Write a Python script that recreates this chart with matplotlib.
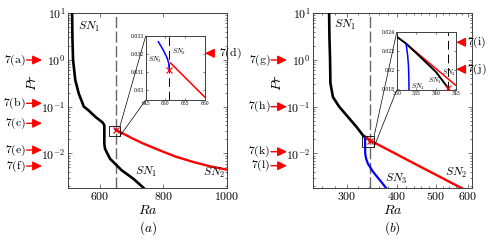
import matplotlib
matplotlib.use('Agg')
import matplotlib.pyplot as plt
import numpy as np
from matplotlib.patches import Rectangle, ConnectionPatch
from matplotlib.ticker import FixedLocator, FixedFormatter, NullFormatter, LogLocator

plt.rcParams['mathtext.fontset'] = 'cm'
plt.rcParams['font.family'] = 'serif'

# ---------------- data: panel (a) ----------------
sn1_a_ra = [512, 513, 515, 522, 533, 549, 563, 586, 608, 613.7, 613.7, 616, 631.7, 668.6, 705.2, 737]
sn1_a_pr = [10, 3, 1, 0.37, 0.19, 0.1, 0.084, 0.060, 0.046, 0.040, 0.0162, 0.0125, 0.0077, 0.00435, 0.00288, 0.00185]
sn2_a_ra = [651.3, 660, 700, 737, 800, 842, 900, 947, 1000]
sn2_a_pr = [0.0315, 0.0296, 0.0213, 0.0162, 0.0108, 0.0084, 0.0064, 0.0053, 0.0045]
sn3_a_ra = [648.2, 649.45, 650.46, 650.82, 650.97]
sn3_a_pr = [0.03268, 0.03222, 0.03176, 0.03149, 0.03111]
cross_a = (650.97, 0.03111)
dash_a = 651.0

# ---------------- data: panel (b) ----------------
sn1_b_ra = [271, 271.5, 272.5, 273, 277, 287, 302, 317, 330, 332.4, 336, 340, 343]
sn1_b_pr = [10, 3, 1, 0.32, 0.16, 0.1, 0.06, 0.037, 0.02354, 0.0228, 0.0214, 0.0198, 0.01815]
sn2_b_ra = [332.4, 345, 400, 438, 500, 583]
sn2_b_pr = [0.0228, 0.0184, 0.0095, 0.0063, 0.0035, 0.00176]
sn3_b_ra = [332.4, 332.8, 333.0, 333.1, 333.2, 333.3, 335, 338.6, 349, 362.8, 377]
sn3_b_pr = [0.02277, 0.0215, 0.0204, 0.019, 0.0150, 0.0100, 0.0078, 0.0060, 0.0040, 0.00266, 0.00176]
cross_b = (343, 0.01815)
dash_b = 343.0

W, H = 490, 241
fig = plt.figure(figsize=(W / 100, H / 100), dpi=100)


def fx(px):
    return px / W


def fy(py):
    return 1 - py / H


spine_c = '0.25'
RED = '#ff0000'
BLUE = '#0000ff'


def style(ax, fs=8, length=3, pad=2):
    for s in ax.spines.values():
        s.set_color(spine_c)
        s.set_linewidth(0.7)
    ax.tick_params(which='both', direction='in', top=True, right=True,
                   width=0.5, colors=spine_c, labelcolor='black', labelsize=fs, pad=pad)
    ax.tick_params(which='major', length=length)
    ax.tick_params(which='minor', length=length * 0.55)


axA = fig.add_axes([fx(68.3), fy(187.7), (226.7 - 68.3) / W, (187.7 - 13) / H])
axB = fig.add_axes([fx(313.3), fy(187.7), (472.0 - 313.3) / W, (187.7 - 13) / H])

ylog_ticks = [1e-2, 1e-1, 1, 10]
ylog_labels = ['$10^{-2}$', '$10^{-1}$', '$10^{0}$', '$10^{1}$']

for ax in (axA, axB):
    ax.set_yscale('log')
    ax.set_ylim(0.00185, 10)
    ax.yaxis.set_major_locator(FixedLocator(ylog_ticks))
    ax.yaxis.set_major_formatter(FixedFormatter(ylog_labels))
    ax.yaxis.set_minor_locator(LogLocator(base=10, subs=np.arange(2, 10)))
    ax.yaxis.set_minor_formatter(NullFormatter())
    style(ax, fs=8.5)

# panel a
axA.set_xlim(500, 1000)
axA.xaxis.set_major_locator(FixedLocator([600, 800, 1000]))
axA.xaxis.set_major_formatter(FixedFormatter(['$600$', '$800$', '$1000$']))
axA.axvline(dash_a, color='0.4', lw=1.0, ls=(0, (8, 2.5)), zorder=1)
axA.plot(sn1_a_ra, sn1_a_pr, color='black', lw=1.9, zorder=3)
axA.plot(sn2_a_ra, sn2_a_pr, color=RED, lw=1.7, zorder=3)
axA.plot(sn3_a_ra, sn3_a_pr, color=BLUE, lw=1.2, zorder=4)
axA.plot([cross_a[0]], [cross_a[1]], 'x', color=RED, ms=4, mew=0.9, zorder=5)
boxA = Rectangle((630, 0.0234), 33, 0.038 - 0.0234, fill=False, ec='black', lw=0.6, zorder=6)
axA.add_patch(boxA)
axA.text(0.061, 0.921, '$SN_1$', transform=axA.transAxes, fontsize=8.5, va='center')
axA.text(0.421, 0.092, '$SN_1$', transform=axA.transAxes, fontsize=8.5, va='center')
axA.text(0.850, 0.082, '$SN_2$', transform=axA.transAxes, fontsize=8.5, va='center')

# panel b
axB.set_xscale('log')
axB.set_xlim(247.5, 615)
axB.xaxis.set_major_locator(FixedLocator([300, 400, 500, 600]))
axB.xaxis.set_major_formatter(FixedFormatter(['$300$', '$400$', '$500$', '$600$']))
axB.xaxis.set_minor_locator(FixedLocator([260, 280, 320, 340, 360, 380, 420, 440, 460, 480,
                                          520, 540, 560, 580]))
axB.xaxis.set_minor_formatter(NullFormatter())
axB.axvline(dash_b, color='0.4', lw=1.0, ls=(0, (8, 2.5)), zorder=1)
axB.plot(sn1_b_ra, sn1_b_pr, color='black', lw=1.9, zorder=3)
axB.plot(sn2_b_ra, sn2_b_pr, color=RED, lw=1.7, zorder=3)
axB.plot(sn3_b_ra, sn3_b_pr, color=BLUE, lw=1.6, zorder=4)
axB.plot([cross_b[0]], [cross_b[1]], 'x', color=RED, ms=4, mew=0.9, zorder=5)
boxB = Rectangle((326.4, 0.0137), 350.7 - 326.4, 0.0232 - 0.0137, fill=False, ec='black', lw=0.6, zorder=6)
axB.add_patch(boxB)
axB.text(0.132, 0.93, '$SN_1$', transform=axB.transAxes, fontsize=8.5, va='center')
axB.text(0.83, 0.082, '$SN_2$', transform=axB.transAxes, fontsize=8.5, va='center')
axB.text(0.452, 0.05, '$SN_3$', transform=axB.transAxes, fontsize=8.5, va='center')

# ---------------- insets ----------------
insA = fig.add_axes([fx(145.7), fy(100), (205 - 145.7) / W, 64 / H])
insA.set_xlim(645, 660)
insA.set_ylim(0.02945, 0.033)
insA.xaxis.set_major_locator(FixedLocator([645, 650, 655, 660]))
insA.xaxis.set_major_formatter(FixedFormatter(['645', '650', '655', '660']))
insA.yaxis.set_major_locator(FixedLocator([0.030, 0.031, 0.032, 0.033]))
insA.yaxis.set_major_formatter(FixedFormatter(['0.03', '0.031', '0.032', '0.033']))
style(insA, fs=3.3, length=1.5, pad=1)
insA.axvline(dash_a, color='black', lw=0.7, ls=(0, (9, 5)), zorder=1)
insA.plot(sn2_a_ra, sn2_a_pr, color=RED, lw=1.1, zorder=3)
insA.plot(sn3_a_ra, sn3_a_pr, color=BLUE, lw=1.1, zorder=4)
insA.plot([cross_a[0]], [cross_a[1]], 'x', color=RED, ms=4, mew=0.8, zorder=5)
insA.text(0.034, 0.625, '$SN_3$', transform=insA.transAxes, fontsize=5, va='center')
insA.text(0.44, 0.745, '$SN_2$', transform=insA.transAxes, fontsize=5, va='center')

insB = fig.add_axes([fx(396.7), fy(90), 59 / W, 57.7 / H])
insB.set_xlim(330, 345)
insB.set_ylim(0.0179, 0.024)
insB.xaxis.set_major_locator(FixedLocator([330, 335, 340, 345]))
insB.xaxis.set_major_formatter(FixedFormatter(['330', '335', '340', '345']))
insB.yaxis.set_major_locator(FixedLocator([0.018, 0.020, 0.022, 0.024]))
insB.yaxis.set_major_formatter(FixedFormatter(['0.018', '0.02', '0.022', '0.024']))
style(insB, fs=3.3, length=1.5, pad=1)
insB.axvline(dash_b, color='black', lw=0.7, ls=(0, (9, 5)), zorder=1)
insB.plot(sn2_b_ra, sn2_b_pr, color=RED, lw=1.1, zorder=3)
insB.plot(sn1_b_ra, sn1_b_pr, color='black', lw=1.4, zorder=4)
insB.plot(sn3_b_ra, sn3_b_pr, color=BLUE, lw=1.1, zorder=4)
insB.plot([cross_b[0]], [cross_b[1]], 'x', color=RED, ms=4, mew=0.8, zorder=5)
insB.text(0.525, 0.156, '$SN_1$', transform=insB.transAxes, fontsize=5, va='center')
insB.text(0.763, 0.30, '$SN_2$', transform=insB.transAxes, fontsize=5, va='center')
insB.text(0.237, 0.05, '$SN_3$', transform=insB.transAxes, fontsize=5, va='center')

# connector lines
for ax, ins, box in ((axA, insA, (663, 0.038, 0.0234)), (axB, insB, (350.7, 0.0232, 0.0137))):
    for yb, yi in ((box[1], 1), (box[2], 0)):
        cp = ConnectionPatch(xyA=(box[0], yb), coordsA=ax.transData,
                             xyB=(0, yi), coordsB=ins.transAxes, color='black', lw=0.5)
        fig.add_artist(cp)

# ---------------- axis labels ----------------
for cx in (147.5, 392.7):
    fig.text(fx(cx), fy(210), '$Ra$', ha='center', va='center', fontsize=10)
fig.text(fx(147.5), fy(228), '$(a)$', ha='center', va='center', fontsize=9.5)
fig.text(fx(392.7), fy(228), '$(b)$', ha='center', va='center', fontsize=9.5)
fig.text(fx(31.5), fy(83), '$Pr$', ha='center', va='center', fontsize=10, rotation=90)
fig.text(fx(276.5), fy(83), '$Pr$', ha='center', va='center', fontsize=10, rotation=90)

# ---------------- figure references with arrows ----------------
aprops = dict(arrowstyle='-|>,head_length=0.55,head_width=0.27', color=RED, lw=1.0,
              shrinkA=0, shrinkB=0, mutation_scale=10)
left_refs = [('7(a)', 60), ('7(b)', 103.3), ('7(c)', 123.3), ('7(e)', 150), ('7(f)', 166)]
for lab, yy in left_refs:
    fig.text(fx(26), fy(yy), r'$\mathrm{' + lab + '}$', ha='right', va='center', fontsize=8.5)
    axA.annotate('', xy=(fx(42), fy(yy)), xytext=(fx(26.5), fy(yy)),
                 xycoords='figure fraction', textcoords='figure fraction',
                 arrowprops=aprops, annotation_clip=False)
left_refs_b = [('7(g)', 60), ('7(h)', 106.7), ('7(k)', 151.7), ('7(l)', 165.7)]
for lab, yy in left_refs_b:
    fig.text(fx(270.5), fy(yy), r'$\mathrm{' + lab + '}$', ha='right', va='center', fontsize=8.5)
    axB.annotate('', xy=(fx(287), fy(yy)), xytext=(fx(271), fy(yy)),
                 xycoords='figure fraction', textcoords='figure fraction',
                 arrowprops=aprops, annotation_clip=False)
right_refs = [(axA, '7(d)', 53.3, 205, 214, 219), (axB, '7(i)', 42.3, 456.2, 463.5, 466.5),
              (axB, '7(j)', 69.3, 456.2, 463.5, 467)]
for ax, lab, yy, tip, tail, tx in right_refs:
    ax.annotate('', xy=(fx(tip), fy(yy)), xytext=(fx(tail), fy(yy)),
                xycoords='figure fraction', textcoords='figure fraction',
                arrowprops=aprops, annotation_clip=False, zorder=10)
    fig.text(fx(tx), fy(yy), r'$\mathrm{' + lab + '}$', ha='left', va='center', fontsize=8.5, zorder=10)

fig.savefig('out.png', dpi=100)
